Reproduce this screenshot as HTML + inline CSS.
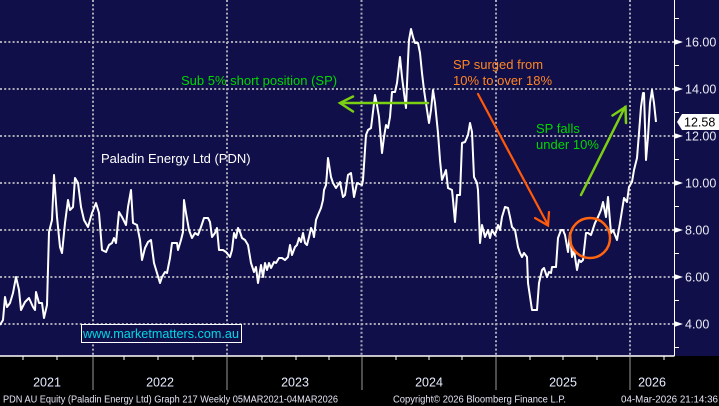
<!DOCTYPE html>
<html><head><meta charset="utf-8"><style>
html,body{margin:0;padding:0;background:#000;}
svg{display:block;font-family:"Liberation Sans",Arial,sans-serif;}
</style></head><body>
<svg width="719" height="406" viewBox="0 0 719 406" xmlns="http://www.w3.org/2000/svg">
<rect x="0" y="0" width="719" height="406" fill="#000"/>
<rect x="0" y="0" width="719" height="356" fill="#100f4a"/>
<!-- horizontal gridlines -->
<g stroke="#a9a9b6" stroke-width="2" stroke-dasharray="2 2.2">
<line x1="0" y1="42" x2="674" y2="42"/>
<line x1="0" y1="89" x2="674" y2="89"/>
<line x1="0" y1="136" x2="674" y2="136"/>
<line x1="0" y1="183" x2="674" y2="183"/>
<line x1="0" y1="230" x2="674" y2="230"/>
<line x1="0" y1="277" x2="674" y2="277"/>
<line x1="0" y1="324" x2="674" y2="324"/>
<line x1="93" y1="0" x2="93" y2="356"/>
<line x1="227" y1="0" x2="227" y2="356"/>
<line x1="361.5" y1="0" x2="361.5" y2="356"/>
<line x1="496" y1="0" x2="496" y2="356"/>
<line x1="630" y1="0" x2="630" y2="356"/>
</g>
<!-- watermark -->
<rect x="81.5" y="324.5" width="160" height="18" fill="#100f4a" stroke="#ffffff" stroke-width="1"/>
<text x="83" y="338" font-size="13" fill="#00d8e6" textLength="156" lengthAdjust="spacingAndGlyphs">www.marketmatters.com.au</text>
<!-- price series -->
<polyline fill="none" stroke="#ffffff" stroke-width="2" stroke-linejoin="round" points="
0,325 3,320 5,297 7,307 10,303 13,293 16,277 19,290 21,310 25,302 29,298 33,307 35,310 36,292 39,303 42,303 44,318 47,305 49,232 52,220 54,175 57,217 60,247 62,253 65,223 68,200 70,210 73,207 75,178 78,183 81,207 84,220 88,227 92,213 96,203 99,213 102,250 106,252 109,245 112,243 114,238 116,243 119,212 122,217 126,225 128,207 131,190 133,223 137,225 140,240 142,260 145,248 148,242 151,240 154,263 157,273 160,283 162,277 165,272 167,273 170,258 172,243 177,243 178,250 181,240 183,232 184,200 186,213 189,230 192,238 195,233 198,235 201,227 204,218 208,218 210,222 212,237 215,233 217,228 219,250 223,250 226,252 230,257 232,250 234,233 236,238 238,228 240,232 242,238 245,240 248,245 251,263 254,272 256,267 258,283 261,265 263,277 265,263 267,270 269,263 271,268 274,262 276,263 279,258 282,258 285,260 288,257 290,245 292,255 295,247 297,245 299,238 301,242 303,233 305,243 307,245 309,237 311,228 313,232 314,237 316,220 318,215 321,208 323,200 324,190 326,185 327,173 328,158 331,177 333,183 336,188 340,182 343,197 345,195 348,175 351,173 354,197 357,183 362,185 363,180 366,135 368,130 371,128 372,120 375,95 377,105 379,117 382,153 384,137 386,125 388,128 390,117 392,92 395,92 397,83 400,57 402,77 404,93 406,108 408,60 409,40 411,29 413,37 415,43 418,43 420,53 422,73 424,90 427,110 429,123 431,110 433,90 435,103 438,133 440,160 442,180 444,175 446,170 448,188 452,190 453,200 455,222 457,195 460,195 462,143 465,142 468,135 470,123 472,132 474,177 477,183 478,190 480,243 482,225 485,237 488,230 490,238 492,230 495,235 498,225 500,230 502,217 505,207 508,208 510,217 512,227 515,230 518,247 520,253 522,257 524,253 527,257 528,283 532,310 537,310 539,283 542,270 544,268 547,277 549,272 551,273 552,267 556,267 558,238 561,230 563,230 565,235 568,252 570,233 572,257 574,250 577,270 579,260 581,262 583,260 586,233 588,233 591,235 595,223 598,217 601,210 603,202 606,217 608,197 611,233 613,230 617,240 620,223 624,198 627,202 629,187 632,182 634,170 637,158 639,133 641,107 643,93 644,93 646,160 648,137 650,103 652,90 654,103 656,122"/>
<!-- annotations -->
<text x="181" y="85" font-size="13" fill="#00d800">Sub 5% short position (SP)</text>
<g stroke="#7ccf12" stroke-width="2.5" fill="none" stroke-linecap="round">
<line x1="341" y1="103" x2="428" y2="103"/>
<polyline points="353,96.5 340,103 353,111.5"/>
<line x1="581" y1="195" x2="625" y2="107"/>
<polyline points="612.5,115.5 625.5,107 626,123"/>
</g>
<text x="453" y="69" font-size="13" fill="#ff8424">SP surged from</text>
<text x="453" y="85" font-size="13" fill="#ff8424">10% to over 18%</text>
<g stroke="#ff5a0a" stroke-width="2.2" fill="none" stroke-linecap="round">
<line x1="478" y1="94" x2="548" y2="225"/>
<polyline points="535,218 548,225.5 549,212"/>
</g>
<circle cx="590" cy="238" r="20" fill="none" stroke="#ff640f" stroke-width="2.5"/>
<text x="536" y="133" font-size="13" fill="#00d800">SP falls</text>
<text x="536" y="149" font-size="13" fill="#00d800">under 10%</text>
<text x="101" y="163" font-size="13" fill="#ffffff">Paladin Energy Ltd (PDN)</text>
<!-- right axis -->
<line x1="674.5" y1="0" x2="674.5" y2="356" stroke="#ffffff" stroke-width="1"/>
<g fill="#ffffff">
<polygon points="674,39 683,42 674,45"/>
<polygon points="674,86 683,89 674,92"/>
<polygon points="674,133 683,136 674,139"/>
<polygon points="674,180 683,183 674,186"/>
<polygon points="674,227 683,230 674,233"/>
<polygon points="674,274 683,277 674,280"/>
<polygon points="674,321 683,324 674,327"/>
</g>
<g stroke="#ffffff" stroke-width="1">
<line x1="674" y1="18.5" x2="679" y2="18.5"/>
<line x1="674" y1="65.5" x2="679" y2="65.5"/>
<line x1="674" y1="112.5" x2="679" y2="112.5"/>
<line x1="674" y1="159.5" x2="679" y2="159.5"/>
<line x1="674" y1="206.5" x2="679" y2="206.5"/>
<line x1="674" y1="253.5" x2="679" y2="253.5"/>
<line x1="674" y1="300.5" x2="679" y2="300.5"/>
<line x1="674" y1="347.5" x2="679" y2="347.5"/>
</g>
<g font-size="12.5" fill="#eaeaf4">
<text x="685" y="46.5">16.00</text>
<text x="685" y="93.5">14.00</text>
<text x="685" y="140.5">12.00</text>
<text x="685" y="187.5">10.00</text>
<text x="685" y="234.5">8.00</text>
<text x="685" y="281.5">6.00</text>
<text x="685" y="328.5">4.00</text>
</g>
<polygon points="677,122 682,114 719,114 719,130 682,130" fill="#ffffff"/>
<text x="684" y="126.5" font-size="12.5" fill="#000000">12.58</text>
<!-- bottom axis -->
<line x1="0" y1="356" x2="674.5" y2="356" stroke="#ffffff" stroke-width="1.5"/>
<g stroke="#ffffff" stroke-width="1">
<line x1="23" y1="356" x2="23" y2="360"/>
<line x1="57" y1="356" x2="57" y2="360"/>
<line x1="124" y1="356" x2="124" y2="360"/>
<line x1="158" y1="356" x2="158" y2="360"/>
<line x1="193" y1="356" x2="193" y2="360"/>
<line x1="262" y1="356" x2="262" y2="360"/>
<line x1="296" y1="356" x2="296" y2="360"/>
<line x1="329" y1="356" x2="329" y2="360"/>
<line x1="396" y1="356" x2="396" y2="360"/>
<line x1="429" y1="356" x2="429" y2="360"/>
<line x1="462" y1="356" x2="462" y2="360"/>
<line x1="530" y1="356" x2="530" y2="360"/>
<line x1="563" y1="356" x2="563" y2="360"/>
<line x1="597" y1="356" x2="597" y2="360"/>
<line x1="664" y1="356" x2="664" y2="360"/>
</g>
<g stroke="#9a9a9a" stroke-width="1">
<line x1="93" y1="357" x2="93" y2="390"/>
<line x1="227" y1="357" x2="227" y2="390"/>
<line x1="362" y1="357" x2="362" y2="390"/>
<line x1="496" y1="357" x2="496" y2="390"/>
<line x1="630" y1="357" x2="630" y2="390"/>
</g>
<g font-size="12.5" fill="#e6ecff" text-anchor="middle">
<text x="47" y="386.5">2021</text>
<text x="160" y="386.5">2022</text>
<text x="295" y="386.5">2023</text>
<text x="429" y="386.5">2024</text>
<text x="563" y="386.5">2025</text>
<text x="652" y="386.5">2026</text>
</g>
<g font-size="10" fill="#e4e4f4">
<text x="3" y="402.5" textLength="335" lengthAdjust="spacingAndGlyphs">PDN AU Equity (Paladin Energy Ltd) Graph 217 Weekly 05MAR2021-04MAR2026</text>
<text x="393" y="402.5" textLength="173" lengthAdjust="spacingAndGlyphs">Copyright© 2026 Bloomberg Finance L.P.</text>
<text x="621" y="402.5" textLength="97" lengthAdjust="spacingAndGlyphs">04-Mar-2026 21:14:36</text>
</g>
</svg>
</body></html>
